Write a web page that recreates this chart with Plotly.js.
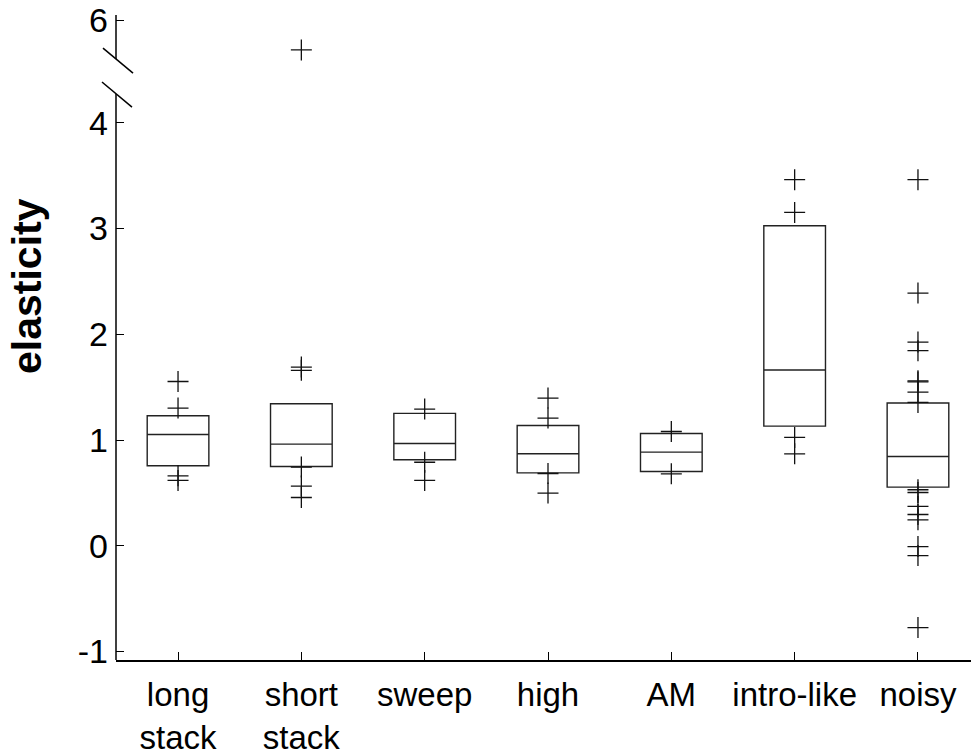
<!DOCTYPE html>
<html>
<head>
<meta charset="utf-8">
<script src="https://cdn.plot.ly/plotly-3.0.1.min.js"></script>
<style>html,body{margin:0;padding:0;background:#fff;}#chart{width:971px;height:756px;}</style>
</head>
<body>
<div id="chart"></div>
<script>
// ---- data ----
const categories = ["long<br>stack", "short<br>stack", "sweep", "high", "AM", "intro-like", "noisy"];
const q1     = [0.757, 0.750, 0.814, 0.690, 0.703, 1.132, 0.555];
const median = [1.053, 0.962, 0.968, 0.870, 0.886, 1.662, 0.845];
const q3     = [1.230, 1.343, 1.252, 1.138, 1.062, 3.027, 1.350];
const outliers = [
  [1.554, 1.303, 0.662, 0.618],
  [5.72, 1.69, 1.66, 0.745, 0.565, 0.457],
  [1.293, 0.790, 0.618],
  [1.397, 1.208, 0.684, 0.499],
  [1.081, 0.681],
  [3.463, 3.153, 1.025, 0.870],
  [3.463, 2.390, 1.927, 1.845, 1.560, 1.550, 1.454, 1.356, 0.530, 0.504, 0.372, 0.296, 0.246, -0.007, -0.092, -0.773]
];
const yTickValues = [-1, 0, 1, 2, 3, 4, 6];
const yTickLabels = ["-1", "0", "1", "2", "3", "4", "6"];

// broken axis: values above BREAK_AT are drawn shifted down by BREAK_SHIFT
const BREAK_AT = 5;
const BREAK_SHIFT = 1.03;
const toAxis = v => (v > BREAK_AT ? v - BREAK_SHIFT : v);

const ox = [], oy = [];
outliers.forEach((arr, i) => arr.forEach(v => { ox.push(categories[i]); oy.push(toAxis(v)); }));

const boxTrace = {
  type: "box",
  x: categories,
  q1: q1, median: median, q3: q3,
  lowerfence: q1, upperfence: q3,
  width: 0.5,
  whiskerwidth: 0,
  boxpoints: false,
  fillcolor: "rgba(255,255,255,0)",
  line: {color: "#222", width: 1.4},
  hoverinfo: "skip",
  showlegend: false
};
const outTrace = {
  type: "scatter", mode: "markers",
  x: ox, y: oy,
  marker: {symbol: "cross-thin", size: 15, line: {color: "#111", width: 1.3}, color: "#111"},
  showlegend: false, cliponaxis: false
};

const axisColor = "#000";
const shapes = [
  // y axis line with a gap at the break
  {type: "line", xref: "paper", yref: "y", x0: 0, x1: 0, y0: -1.08, y1: 4.272, line: {color: axisColor, width: 1.5}},
  {type: "line", xref: "paper", yref: "y", x0: 0, x1: 0, y0: 4.603, y1: 5.02, line: {color: axisColor, width: 1.5}},
  // break marks
  {type: "line", xref: "paper", yref: "y", x0: -0.0152, x1: 0.0199, y0: 4.707, y1: 4.471, line: {color: axisColor, width: 1.5}},
  {type: "line", xref: "paper", yref: "y", x0: -0.0164, x1: 0.0187, y0: 4.386, y1: 4.149, line: {color: axisColor, width: 1.5}}
];

const font = {family: "Liberation Sans, Arial, sans-serif", color: "#000"};
const layout = {
  width: 971, height: 756,
  margin: {l: 116, r: 0, t: 15, b: 96},
  paper_bgcolor: "#fff", plot_bgcolor: "#fff",
  font: font,
  showlegend: false,
  xaxis: {
    type: "category",
    range: [-0.503, 6.43],
    showgrid: false, zeroline: false,
    showline: true, linecolor: axisColor, linewidth: 1.5,
    ticks: "inside", ticklen: 8, tickwidth: 1, tickcolor: axisColor,
    tickfont: {family: font.family, size: 33, color: "#000"},
    ticklabelstandoff: 5
  },
  yaxis: {
    range: [-1.08, 5.02],
    tickmode: "array",
    tickvals: yTickValues.map(toAxis),
    ticktext: yTickLabels,
    showgrid: false, zeroline: false,
    showline: false,
    ticks: "inside", ticklen: 8, tickwidth: 1, tickcolor: axisColor,
    tickfont: {family: font.family, size: 34, color: "#000"},
    ticklabelstandoff: 7
  },
  shapes: shapes,
  annotations: [{
    text: "<b>elasticity</b>", textangle: -90,
    xref: "paper", yref: "paper", x: -0.104, y: 0.58,
    xanchor: "center", yanchor: "middle", showarrow: false,
    font: {family: font.family, size: 41, color: "#000"}
  }]
};

Plotly.newPlot("chart", [boxTrace, outTrace], layout, {displayModeBar: false, staticPlot: true});
</script>
</body>
</html>
